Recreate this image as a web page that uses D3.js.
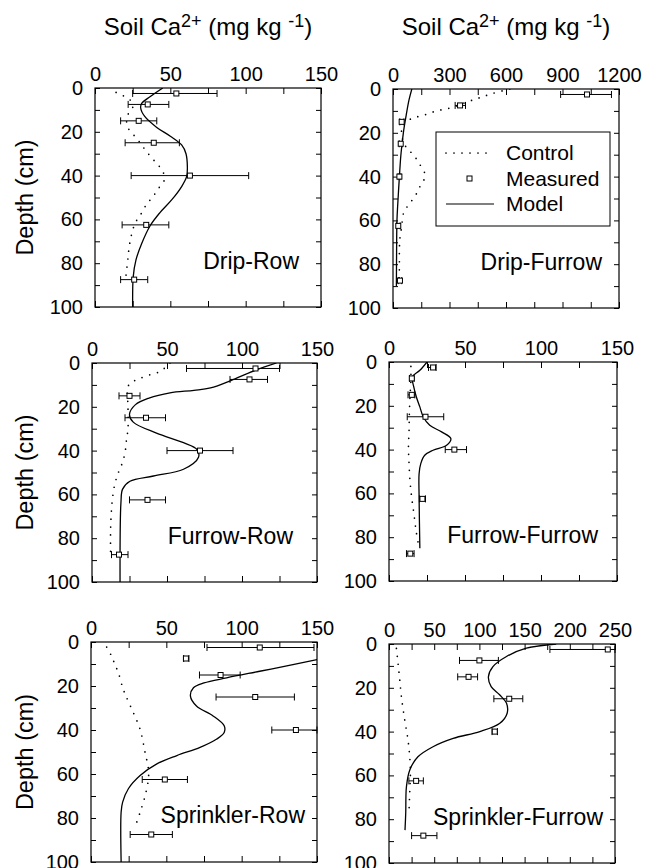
<!DOCTYPE html>
<html>
<head>
<meta charset="utf-8">
<script src="https://cdn.jsdelivr.net/npm/d3@7"></script>
<style>
  body { margin: 0; background: #fff; }
  svg { display: block; font-family: "Liberation Sans", Arial, Helvetica, sans-serif; }
  .tick text { font-size: 20px; fill: #000; }
</style>
</head>
<body>
<svg id="chart" width="645" height="868"></svg>
<script>
// measured sampling depths (cm), shared by every panel
const sampleDepths = [2.5, 7.5, 15, 25, 40, 62.5, 87.5];

// measured Ca (mean, low, high) per treatment
const dripRowMeasured = [54, 35, 29, 39, 63, 34, 26];
const dripRowLow = [25, 22, 17, 20, 24, 18, 17];
const dripRowHigh = [81, 49, 41, 56, 102, 49, 35];

const dripFurrowMeasured = [1030, 356, 46, 41, 34, 28, 37];
const dripFurrowLow = [890, 330, 36, 33, 27, 20, 28];
const dripFurrowHigh = [1160, 385, 58, 50, 42, 38, 46];

const furrowRowMeasured = [109, 105, 25, 36, 72, 37, 18];
const furrowRowLow = [63, 92, 18, 22, 50, 25, 13];
const furrowRowHigh = [125, 117, 32, 49, 94, 49, 24];

const furrowFurrowMeasured = [29, 15, 15, 24, 43, 22, 14];
const furrowFurrowLow = [26, 13.5, 12.5, 12, 37, 20, 11.5];
const furrowFurrowHigh = [31, 16.5, 17, 36, 51, 24, 16.5];

const sprinklerRowMeasured = [112, 63, 86, 109, 136, 49, 40];
const sprinklerRowLow = [77, 61.5, 72, 83, 120, 34, 26];
const sprinklerRowHigh = [148, 65, 99, 135, 150, 64, 54];

const sprinklerFurrowMeasured = [242, 100, 88, 133, 117, 30, 38];
const sprinklerFurrowLow = [178, 78, 76, 116, 114, 22, 25];
const sprinklerFurrowHigh = [250, 121, 98, 148, 120, 38, 53];

// model curves [depth, Ca]
const dripRowModel = [[0,45],[4,36.5],[7,31],[9,30.3],[13,33],[18,41],[22,50],[26,57.5],[30,60.4],[36,61.3],[40.5,60.8],[45,57.5],[51,51],[57,43],[63,36.5],[71,31],[78.5,27.2],[86,25.4],[100,25]];
const dripFurrowModel = [[0,100],[5,85],[12,70],[20,55],[30,42],[40,34],[53,25],[60,21],[75,19],[90,18]];
const furrowRowModel = [[0,123],[3,110],[7.6,94],[11.4,79],[12.5,68],[13.6,52],[16,38],[19,29],[23.4,25],[27,27.5],[32,43],[36.4,61],[39.5,70],[43,71],[48.5,61],[51.6,41],[54,25.3],[57.6,20.4],[63.7,19.3],[100,18.7]];
const furrowFurrowModel = [[0,25],[3.8,20.3],[6.8,15.4],[11.4,16.3],[16,18],[20.5,20.3],[25,22.5],[28.9,26.8],[31.9,34.6],[35,40.7],[38,37.9],[40.3,29],[42.6,23.5],[46.4,20.9],[51,19.8],[61.6,19.8],[85,20.3]];
const sprinklerRowModel = [[4,178],[8,150],[10.3,134],[13.3,112],[16.3,90],[18.6,75],[20.8,68],[24.6,66],[29.1,70],[33.6,81],[38.1,88.4],[41.1,88.4],[44.1,83.5],[47.9,72.4],[51.6,57],[55.4,43.7],[60.7,32.6],[66.7,24.8],[72.8,21],[77.3,20],[100,20]];
const sprinklerFurrowModel = [[0,185],[1.9,152],[5.7,130],[10.3,115],[14.9,110],[19.5,113],[23.3,122.6],[27.1,130],[31.6,130.7],[36.2,122.6],[40,100.5],[43.1,71],[46.9,48.7],[51.5,32],[57.5,23],[65.1,19.3],[77.3,18.5],[85,17.7]];

// control profiles [depth, Ca]
const dripRowControl = [[2,14],[4,20],[6,24],[9,25],[12,22],[16,21],[19,22.6],[23,27.7],[27,32],[31,36.5],[34.5,41],[38,45],[42,46],[46,42],[50,38],[53,34.3],[57,31],[61,27.2],[64,25.4],[68,23.9],[72,22.8],[76,22.1],[79,21.7],[83,21],[86,20.5]];
const dripFurrowControl = [[0,620],[2,530],[4,460],[6,390],[8.5,310],[10,232],[12,161],[13.5,99],[16,55],[20,45],[24,55],[27,73],[30,108],[34.5,143],[39,170],[42,162],[45,140],[49,117],[53,81],[57,55],[63,46],[68,37],[73,34],[80,34],[87,33]];
const furrowRowControl = [[0,52],[2,49],[4,45],[5.3,39],[7,32],[8.4,27.5],[10.7,24],[20,24],[30,24],[35,23],[41,22],[46,20],[50,17.6],[55,15.3],[61,13.8],[67,13],[76,12.4],[88,12.4]];
const furrowFurrowControl = [[2,14.4],[8.4,14.4],[16,13.8],[23.6,13.4],[31.3,13.2],[38.9,12.8],[46.5,13.2],[54.1,13.8],[61.7,14.9],[69.4,16.4],[77,17.8],[83,19.3]];
const sprinklerRowControl = [[2.3,10.4],[6.5,13.7],[10.3,15.9],[13.8,18.1],[20.9,21.1],[24.7,23.3],[32.1,28.1],[39.7,32.6],[50.2,35.9],[57.8,38.1],[62.3,38.1],[69.9,35.9],[77.4,32.6],[84.2,29.2]];
const sprinklerFurrowControl = [[2,8.2],[8.8,10],[16.4,11.9],[24,13.7],[34.7,17.4],[43.8,21],[51.4,22.9],[59,23.7],[68.1,22.9],[75.7,22.2]];

const panelNames = ['Drip-Row', 'Drip-Furrow', 'Furrow-Row', 'Furrow-Furrow', 'Sprinkler-Row', 'Sprinkler-Furrow'];
const xMax = [150, 1200, 150, 150, 150, 250];
const xLabelStep = [50, 300, 50, 50, 50, 50];
const xTickStep = [25, 150, 25, 25, 25, 25];
const depthTicks = [0, 20, 40, 60, 80, 100];
const legendLabels = ['Control', 'Measured', 'Model'];

const panelData = [
  { measured: dripRowMeasured, low: dripRowLow, high: dripRowHigh, model: dripRowModel, control: dripRowControl },
  { measured: dripFurrowMeasured, low: dripFurrowLow, high: dripFurrowHigh, model: dripFurrowModel, control: dripFurrowControl },
  { measured: furrowRowMeasured, low: furrowRowLow, high: furrowRowHigh, model: furrowRowModel, control: furrowRowControl },
  { measured: furrowFurrowMeasured, low: furrowFurrowLow, high: furrowFurrowHigh, model: furrowFurrowModel, control: furrowFurrowControl },
  { measured: sprinklerRowMeasured, low: sprinklerRowLow, high: sprinklerRowHigh, model: sprinklerRowModel, control: sprinklerRowControl },
  { measured: sprinklerFurrowMeasured, low: sprinklerFurrowLow, high: sprinklerFurrowHigh, model: sprinklerFurrowModel, control: sprinklerFurrowControl }
];

// panel boxes on the page: left, top, right, bottom, label gap from right
const boxes = [
  [95, 88, 321, 307, 22],
  [393, 89, 619, 308, 17],
  [92, 363, 317, 582, 24],
  [389, 362, 617, 581, 19],
  [91, 642, 317, 862, 12],
  [389, 644, 615, 863, 12]
];

const svg = d3.select('#chart');

function drawPanel(i) {
  const [x0, y0, x1, y1, gap] = boxes[i];
  const w = x1 - x0, h = y1 - y0;
  const d = panelData[i];
  const g = svg.append('g').attr('transform', `translate(${x0},${y0})`);

  const x = d3.scaleLinear().domain([0, xMax[i]]).range([0, w]);
  const y = d3.scaleLinear().domain([0, 100]).range([0, h]);

  g.append('clipPath').attr('id', 'clip' + i)
    .append('rect').attr('width', w).attr('height', h);

  const labelVals = d3.range(0, xMax[i] + 1, xLabelStep[i]);
  const tickVals = d3.range(0, xMax[i] + 1, xTickStep[i]);
  const minorY = d3.range(0, 101, 10);

  // x labels on top
  g.append('g')
    .call(d3.axisTop(x).tickValues(labelVals).tickSize(0).tickPadding(7).tickFormat(d3.format('d')))
    .call(a => a.select('.domain').remove());
  // y labels on left
  g.append('g')
    .call(d3.axisLeft(y).tickValues(depthTicks).tickSize(0).tickPadding(12))
    .call(a => a.select('.domain').remove());

  // inward ticks on all four sides
  const tickAxes = [
    [d3.axisTop(x).tickValues(tickVals).tickSize(-6), 0, 0],
    [d3.axisBottom(x).tickValues(tickVals).tickSize(-6), 0, h],
    [d3.axisLeft(y).tickValues(minorY).tickSize(-5), 0, 0],
    [d3.axisRight(y).tickValues(minorY).tickSize(-5), w, 0]
  ];
  tickAxes.forEach(([ax, tx, ty]) => {
    g.append('g').attr('transform', `translate(${tx},${ty})`)
      .call(ax.tickFormat(''))
      .call(a => a.select('.domain').remove())
      .selectAll('line').attr('stroke', '#000');
  });

  g.append('rect').attr('width', w).attr('height', h)
    .attr('fill', 'none').attr('stroke', '#000').attr('stroke-width', 1.2);

  const line = d3.line().x(p => x(p[1])).y(p => y(p[0])).curve(d3.curveCatmullRom.alpha(0.5));
  const plot = g.append('g').attr('clip-path', `url(#clip${i})`);

  plot.append('path').datum(d.control).attr('d', line)
    .attr('fill', 'none').attr('stroke', '#000').attr('stroke-width', 1.7)
    .attr('stroke-linecap', 'round').attr('stroke-dasharray', '0 8');

  plot.append('path').datum(d.model).attr('d', line)
    .attr('fill', 'none').attr('stroke', '#000').attr('stroke-width', 1.3);

  // error bars + squares
  const bars = g.append('g').selectAll('g').data(sampleDepths).join('g');
  bars.append('line')
    .attr('x1', (v, k) => x(d.low[k])).attr('x2', (v, k) => x(d.high[k]))
    .attr('y1', v => y(v)).attr('y2', v => y(v)).attr('stroke', '#000');
  bars.each(function (v, k) {
    [d.low[k], d.high[k]].forEach(e => {
      d3.select(this).append('line')
        .attr('x1', x(e)).attr('x2', x(e))
        .attr('y1', y(v) - 3.5).attr('y2', y(v) + 3.5).attr('stroke', '#000');
    });
  });
  bars.append('rect')
    .attr('x', (v, k) => x(d.measured[k]) - 2.5).attr('y', v => y(v) - 2.5)
    .attr('width', 5).attr('height', 5)
    .attr('fill', '#fff').attr('stroke', '#000').attr('stroke-width', 1);

  g.append('text').attr('x', w - gap).attr('y', 181)
    .attr('text-anchor', 'end').attr('font-size', 23).text(panelNames[i]);

  return { g, x, y, w, h };
}

const panels = d3.range(6).map(drawPanel);

// titles over each column
[0, 1].forEach(c => {
  const [x0, , x1] = boxes[c];
  const t = svg.append('text').attr('x', (x0 + x1) / 2).attr('y', 35)
    .attr('text-anchor', 'middle').attr('font-size', 24);
  t.append('tspan').text('Soil Ca');
  t.append('tspan').attr('font-size', 18).attr('dy', -8).text('2+');
  t.append('tspan').attr('dy', 8).text(' (mg kg ');
  t.append('tspan').attr('font-size', 18).attr('dy', -8).text('-1');
  t.append('tspan').attr('dy', 8).text(')');
});

// depth labels on the left column
[0, 2, 4].forEach(i => {
  const [, y0, , y1] = boxes[i];
  svg.append('text')
    .attr('transform', `translate(33,${(y0 + y1) / 2}) rotate(-90)`)
    .attr('text-anchor', 'middle').attr('font-size', 23.5).text('Depth (cm)');
});

// legend in the Drip-Furrow panel
const lg = svg.append('g').attr('transform', 'translate(436,132)');
lg.append('rect').attr('width', 174).attr('height', 94)
  .attr('fill', '#fff').attr('stroke', '#000').attr('stroke-width', 1);
legendLabels.forEach((lab, k) => {
  const cy = 21 + k * 25.5;
  if (k === 0) {
    lg.append('line').attr('x1', 10).attr('x2', 58).attr('y1', cy).attr('y2', cy)
      .attr('stroke', '#000').attr('stroke-width', 1.7)
      .attr('stroke-linecap', 'round').attr('stroke-dasharray', '0 8');
  } else if (k === 1) {
    lg.append('rect').attr('x', 31).attr('y', cy - 2.5).attr('width', 5).attr('height', 5)
      .attr('fill', '#fff').attr('stroke', '#000');
  } else {
    lg.append('line').attr('x1', 10).attr('x2', 58).attr('y1', cy).attr('y2', cy)
      .attr('stroke', '#000').attr('stroke-width', 1.2);
  }
  lg.append('text').attr('x', 70).attr('y', cy).attr('dy', '0.35em')
    .attr('font-size', 21).text(lab);
});
</script>
</body>
</html>
